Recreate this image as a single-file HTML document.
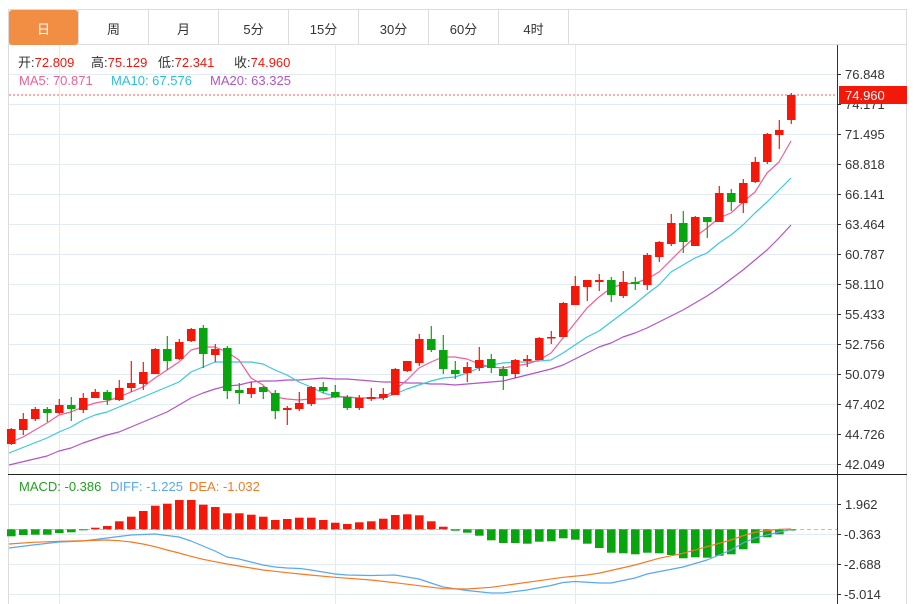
<!DOCTYPE html>
<html><head><meta charset="utf-8"><style>
html,body{margin:0;padding:0;background:#fff;}
svg{display:block;font-family:"Liberation Sans","Noto Sans CJK SC",sans-serif;}
</style></head><body>
<svg width="917" height="604" viewBox="0 0 917 604" xmlns="http://www.w3.org/2000/svg">
<rect width="917" height="604" fill="#fff"/>
<!-- tab bar -->
<rect x="8.5" y="9.5" width="898" height="35" fill="#fff" stroke="#dcdcdc"/>
<rect x="9" y="10" width="69" height="35" rx="3" fill="#f28e43"/>
<g stroke="#dcdcdc"><line x1="148.5" y1="10" x2="148.5" y2="45"/><line x1="218.5" y1="10" x2="218.5" y2="45"/><line x1="288.5" y1="10" x2="288.5" y2="45"/><line x1="358.5" y1="10" x2="358.5" y2="45"/><line x1="428.5" y1="10" x2="428.5" y2="45"/><line x1="498.5" y1="10" x2="498.5" y2="45"/><line x1="568.5" y1="10" x2="568.5" y2="45"/><line x1="78.5" y1="10" x2="78.5" y2="45"/></g>
<g font-size="13" text-anchor="middle" fill="#333">
<text x="43.5" y="34" fill="#fff">日</text><text x="113.5" y="34">周</text><text x="183.5" y="34">月</text><text x="253.5" y="34">5分</text><text x="323.5" y="34">15分</text><text x="393.5" y="34">30分</text><text x="463.5" y="34">60分</text><text x="533.5" y="34">4时</text>
</g>
<!-- frame -->
<line x1="8.5" y1="45" x2="8.5" y2="604" stroke="#dcdcdc"/>
<line x1="906.5" y1="45" x2="906.5" y2="604" stroke="#dcdcdc"/>
<!-- grid -->
<g stroke="#e2eaf2" stroke-width="1">
<line x1="9" y1="74.5" x2="837" y2="74.5"/><line x1="9" y1="104.5" x2="837" y2="104.5"/><line x1="9" y1="134.5" x2="837" y2="134.5"/><line x1="9" y1="164.5" x2="837" y2="164.5"/><line x1="9" y1="194.5" x2="837" y2="194.5"/><line x1="9" y1="224.5" x2="837" y2="224.5"/><line x1="9" y1="254.5" x2="837" y2="254.5"/><line x1="9" y1="284.5" x2="837" y2="284.5"/><line x1="9" y1="314.5" x2="837" y2="314.5"/><line x1="9" y1="344.5" x2="837" y2="344.5"/><line x1="9" y1="374.5" x2="837" y2="374.5"/><line x1="9" y1="404.5" x2="837" y2="404.5"/><line x1="9" y1="434.5" x2="837" y2="434.5"/><line x1="9" y1="464.5" x2="837" y2="464.5"/>
<line x1="9" y1="504.5" x2="837" y2="504.5"/><line x1="9" y1="534.5" x2="837" y2="534.5"/><line x1="9" y1="564.5" x2="837" y2="564.5"/><line x1="9" y1="594.5" x2="837" y2="594.5"/>
<line x1="59.5" y1="45" x2="59.5" y2="604"/><line x1="335.5" y1="45" x2="335.5" y2="604"/><line x1="575.5" y1="45" x2="575.5" y2="604"/>
</g>
<!-- header texts -->
<g font-size="13">
<text x="18" y="67" fill="#333">开:<tspan fill="#f0160c">72.809</tspan></text>
<text x="91" y="67" fill="#333">高:<tspan fill="#f0160c">75.129</tspan></text>
<text x="158" y="67" fill="#333">低:<tspan fill="#f0160c">72.341</tspan></text>
<text x="234" y="67" fill="#333">收:<tspan fill="#f0160c">74.960</tspan></text>
<text x="19" y="85" fill="#ef5f93">MA5: 70.871</text>
<text x="111" y="85" fill="#2cc0d8">MA10: 67.576</text>
<text x="210" y="85" fill="#b255c6">MA20: 63.325</text>
<text x="19" y="491" fill="#22a022">MACD: -0.386</text>
<text x="110" y="491" fill="#5aa8ee">DIFF: -1.225</text>
<text x="189" y="491" fill="#f07a28">DEA: -1.032</text>
</g>
<!-- current price dotted line -->
<line x1="9" y1="95" x2="837" y2="95" stroke="#f55" stroke-width="1" stroke-dasharray="2,2"/>
<!-- MA lines -->
<g fill="none" stroke-width="1.2" stroke-linejoin="round">
<polyline stroke="#b255c6" points="9,465 47,456 59,451 71,448 83,443 95,439 107,435 119,432 131,427 143,422 155,417 167,412 179,405 191,398 203,393 215,389 227,386 239,385 251,382 263,381 275,381 287,380 299,380 311,379 323,378 335,379 347,379 359,380 371,381 383,382 395,382 407,383 419,383 431,384 443,384 455,385 467,384 479,383 491,382 503,381 515,378 527,375 539,372 551,369 563,365 575,359 587,353 599,347 611,343 623,337 635,333 647,328 659,322 671,316 683,310 695,303 707,296 719,288 731,279 743,270 755,260 767,250 779,238 791,225"/>
<polyline stroke="#3cc8dc" points="9,453 47,438 59,432 71,427 83,420 95,415 107,412 119,407 131,402 143,397 155,392 167,387 179,382 191,372 203,367 215,362 227,362 239,362 251,362 263,364 275,370 287,375 299,382 311,387 323,393 335,396 347,397 359,398 371,398 383,398 395,394 407,389 419,385 431,381 443,378 455,377 467,373 479,368 491,365 503,363 515,362 527,362 539,361 551,360 563,353 575,345 587,337 599,331 611,322 623,313 635,304 647,294 659,285 671,272 683,265 695,258 707,253 719,243 731,235 743,225 755,213 767,202 779,190 791,178"/>
<polyline stroke="#ef5f93" points="9,443 23,437 35,430 47,423 59,415 71,412 83,407 95,403 107,401 119,397 131,392 143,387 155,378 167,370 179,362 191,350 203,347 215,347 227,352 239,360 251,378 263,385 275,397 287,399 299,400 311,399 323,399 335,397 347,397 359,398 371,398 383,398 395,390 407,380 419,368 431,362 443,357 455,357 467,359 479,364 491,367 503,368 515,366 527,364 539,360 551,353 563,338 575,323 587,308 599,297 611,288 623,284 635,283 647,279 659,272 671,260 683,248 695,237 707,228 719,218 731,213 743,202 755,192 767,173 779,162 791,141"/>
</g>
<!-- candles -->
<g id="candles" stroke-width="1"></g>
<!-- MACD -->
<line x1="9" y1="529.5" x2="837" y2="529.5" stroke="#a9c6de" stroke-dasharray="4,3"/>
<g id="macd"></g>
<g fill="none" stroke-width="1.2" stroke-linejoin="round">
<polyline stroke="#5aa8ee" points="9,548 33,545 59,542 83,541 107,538 131,535 155,534 179,537 191,541 203,546 215,551 227,557 239,559 251,562 263,565 275,567 287,568 300,568.5 311,570 335,574 347,575 371,575.5 395,575 419,579 443,587 467,590.5 491,593 503,593 527,590 551,585.5 563,582.5 575,581.5 600,583 611,583 635,578 647,574 683,567 707,560 719,555 731,550 743,543 755,538 767,535 779,532 791,529.5"/>
<polyline stroke="#f57a22" points="9,544 33,542.3 59,541.3 83,540.7 107,540 119,540.7 131,542 143,544 155,546.7 167,550 179,553 191,556.3 203,559.3 215,561.7 227,564 239,566 251,568 263,570 275,571.3 287,572.7 300,574 310,575 335,577.3 371,580 395,582.7 419,585.7 443,588.7 467,589 491,587.3 515,584 539,580.7 563,577.3 587,575 600,573 635,565 659,558.3 683,553.3 707,546.7 731,540 743,535.7 755,532.3 767,530.7 779,529.3 791,529"/>
</g>
<!-- axes -->
<line x1="837.5" y1="45" x2="837.5" y2="604" stroke="#333"/>
<line x1="8" y1="474.5" x2="907" y2="474.5" stroke="#222"/>
<g stroke="#333">
<line x1="837" y1="74.5" x2="841" y2="74.5"/><line x1="837" y1="104.5" x2="841" y2="104.5"/><line x1="837" y1="134.5" x2="841" y2="134.5"/><line x1="837" y1="164.5" x2="841" y2="164.5"/><line x1="837" y1="194.5" x2="841" y2="194.5"/><line x1="837" y1="224.5" x2="841" y2="224.5"/><line x1="837" y1="254.5" x2="841" y2="254.5"/><line x1="837" y1="284.5" x2="841" y2="284.5"/><line x1="837" y1="314.5" x2="841" y2="314.5"/><line x1="837" y1="344.5" x2="841" y2="344.5"/><line x1="837" y1="374.5" x2="841" y2="374.5"/><line x1="837" y1="404.5" x2="841" y2="404.5"/><line x1="837" y1="434.5" x2="841" y2="434.5"/><line x1="837" y1="464.5" x2="841" y2="464.5"/>
<line x1="837" y1="504.5" x2="841" y2="504.5"/><line x1="837" y1="534.5" x2="841" y2="534.5"/><line x1="837" y1="564.5" x2="841" y2="564.5"/><line x1="837" y1="594.5" x2="841" y2="594.5"/>
</g>
<g font-size="13" fill="#333">
<text x="845" y="79">76.848</text><text x="845" y="109">74.171</text><text x="845" y="139">71.495</text><text x="845" y="169">68.818</text><text x="845" y="199">66.141</text><text x="845" y="229">63.464</text><text x="845" y="259">60.787</text><text x="845" y="289">58.110</text><text x="845" y="319">55.433</text><text x="845" y="349">52.756</text><text x="845" y="379">50.079</text><text x="845" y="409">47.402</text><text x="845" y="439">44.726</text><text x="845" y="469">42.049</text>
<text x="845" y="509">1.962</text><text x="844" y="539">-0.363</text><text x="844" y="569">-2.688</text><text x="844" y="599">-5.014</text>
</g>
<rect x="839" y="86" width="68" height="18" fill="#f2190b"/>
<text x="845" y="100" font-size="13" fill="#fff">74.960</text>
</svg>
<script>
(function(){
var NS="http://www.w3.org/2000/svg";
var R="#f2190b",G="#09a50f";
var c=[
["r",429,444,428,445],["r",419,430,413,435],["r",409,419,407,421],["g",409,413,407,422],["r",405,413,399,414],
["g",405,409,397,421],["r",398,410,393,413],["r",392,398,389,398],["g",392,400,390,405],["r",388,400,380,401],
["r",383,388,361,392],["r",372,384,362,390],["r",349,374,348,374],["g",349,361,336,370],["r",342,359,339,360],
["r",329,341,328,342],["g",328,354,325,368],["r",349,355,344,362],["g",348,391,346,399],["g",390,393,383,404],
["r",388,394,382,398],["g",387,392,386,399],["g",393,411,390,419],["r",408,410,406,425],["r",403,409,392,411],
["r",387,404,386,406],["g",387,391,382,393],["g",392,397,385,398],["g",397,408,395,410],["r",398,408,395,410],
["r",397,399,388,401],["r",394,398,388,400],["r",369,395,368,395],["r",361,371,361,372],["r",339,363,334,366],
["g",339,350,326,352],["g",350,369,335,374],["g",370,374,361,379],["r",367,373,362,382],["r",360,368,347,371],
["g",359,368,354,373],["g",369,376,366,390],["r",360,374,359,378],["r",359,361,355,367],["r",338,360,337,360],
["r",337,338,331,344],["r",303,337,302,337],["r",286,305,276,305],["r",280,287,280,301],["r",280,282,274,291],
["g",280,295,277,302],["r",282,296,271,298],["g",282,284,277,290],["r",255,285,253,290],["r",242,257,241,262],
["r",223,244,214,246],["g",223,242,211,253],["r",217,246,216,246],["g",217,222,217,238],["r",193,222,186,222],
["g",193,202,189,211],["r",183,203,179,213],["r",162,182,157,183],["r",134,162,133,164],["r",130,135,120,149],
["r",95,120,93,124]];
var g=document.getElementById("candles");
for(var i=0;i<c.length;i++){
 var d=c[i],x=11.3+12*i,col=d[0]=="r"?R:G;
 var l=document.createElementNS(NS,"line");
 l.setAttribute("x1",x);l.setAttribute("x2",x);l.setAttribute("y1",d[3]);l.setAttribute("y2",d[4]);
 l.setAttribute("stroke",col);l.setAttribute("stroke-width","1.2");g.appendChild(l);
 var r=document.createElementNS(NS,"rect");
 var h=Math.max(1.5,d[2]-d[1]);
 r.setAttribute("x",x-4.3);r.setAttribute("y",d[1]);r.setAttribute("width",8.6);r.setAttribute("height",h);
 r.setAttribute("fill",col);g.appendChild(r);
}
var m=[536.3,535,534.7,534.7,533,532.3,530,527.7,526,521.3,516.7,511,505.7,503.7,500,500,504.7,507,513.3,513.3,514.7,516.7,520,519,517.7,517.7,520,522.7,524,522.3,521.3,518.7,515,514.3,515.3,521.3,526.7,530.7,532.7,535.7,540.3,543,543,543.7,541.7,541.3,538.3,539.7,543.7,548,552.7,553.3,554.3,552.7,553.3,555,558.3,557.3,557.7,555.7,554.3,549.3,543.3,537.3,534.3,530.5];
var z=529.3,mg=document.getElementById("macd");
for(var j=0;j<m.length;j++){
 var x2=11.3+12*j,v=m[j];
 var rr=document.createElementNS(NS,"rect");
 var y0=Math.min(v,z),hh=Math.max(1,Math.abs(v-z));
 rr.setAttribute("x",x2-4.3);rr.setAttribute("y",y0);rr.setAttribute("width",8.6);rr.setAttribute("height",hh);
 rr.setAttribute("fill",v<z?R:G);mg.appendChild(rr);
}
})();
</script>
</body></html>
